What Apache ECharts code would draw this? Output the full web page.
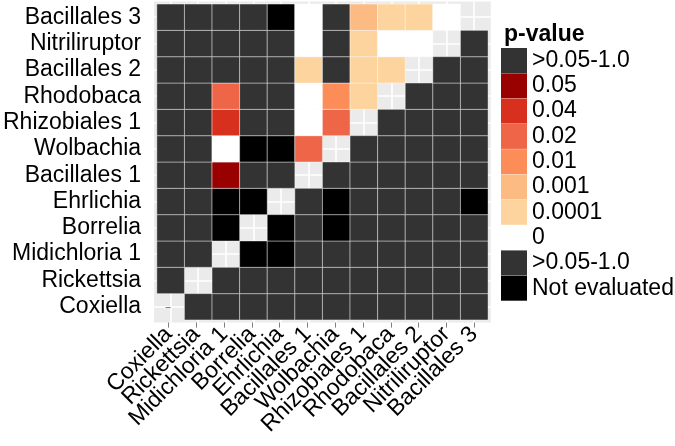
<!DOCTYPE html>
<html>
<head>
<meta charset="utf-8">
<script src="https://cdn.jsdelivr.net/npm/echarts@6/dist/echarts.min.js"></script>
<style>
html,body{margin:0;padding:0;background:#fff;}
#chart{width:675px;height:446px;}
</style>
</head>
<body>
<div id="chart"></div>
<script>
// Taxa, in axis order (x: left to right, y: bottom to top)
const taxa = ['Coxiella','Rickettsia','Midichloria 1','Borrelia','Ehrlichia','Bacillales 1','Wolbachia','Rhizobiales 1','Rhodobaca','Bacillales 2','Nitriliruptor','Bacillales 3'];

// Legend levels and colours
const levelLabels = ['>0.05-1.0','0.05','0.04','0.02','0.01','0.001','0.0001','0','>0.05-1.0','Not evaluated'];
const levelCodes  = ['ns','0.05','0.04','0.02','0.01','0.001','0.0001','0','ns2','NE'];
const levelColors = ['#333333','#990000','#d7301f','#ef6548','#fc8d59','#fdbb84','#fdd49e','#ffffff','#333333','#000000'];

// Matrix rows (columns follow taxa order); '-' = not shown (diagonal)
const rowBacillales3   = ['ns','ns','ns','ns','NE','0','ns','0.001','0.0001','0.0001','0','-'];
const rowNitriliruptor = ['ns','ns','ns','ns','ns','0','ns','0.0001','0','0','-','ns'];
const rowBacillales2   = ['ns','ns','ns','ns','ns','0.0001','ns','0.0001','0.0001','-','ns','ns'];
const rowRhodobaca     = ['ns','ns','0.02','ns','ns','0','0.01','0.0001','-','ns','ns','ns'];
const rowRhizobiales1  = ['ns','ns','0.04','ns','ns','0','0.02','-','ns','ns','ns','ns'];
const rowWolbachia     = ['ns','ns','0','NE','NE','0.02','-','ns','ns','ns','ns','ns'];
const rowBacillales1   = ['ns','ns','0.05','ns','ns','-','ns','ns','ns','ns','ns','ns'];
const rowEhrlichia     = ['ns','ns','NE','NE','-','ns','NE','ns','ns','ns','ns','NE'];
const rowBorrelia      = ['ns','ns','NE','-','NE','ns','NE','ns','ns','ns','ns','ns'];
const rowMidichloria1  = ['ns','ns','-','NE','NE','ns','ns','ns','ns','ns','ns','ns'];
const rowRickettsia    = ['ns','-','ns','ns','ns','ns','ns','ns','ns','ns','ns','ns'];
const rowCoxiella      = ['-','ns','ns','ns','ns','ns','ns','ns','ns','ns','ns','ns'];

const rowsBottomUp = [rowCoxiella,rowRickettsia,rowMidichloria1,rowBorrelia,rowEhrlichia,rowBacillales1,rowWolbachia,rowRhizobiales1,rowRhodobaca,rowBacillales2,rowNitriliruptor,rowBacillales3];

const data = [];
rowsBottomUp.forEach((row, yi) => {
  row.forEach((code, xi) => {
    if (code === '-') return;
    data.push([xi, yi, levelCodes.indexOf(code)]);
  });
});

const idx = taxa.map((_, i) => i);
const FONT = 'Liberation Sans, Arial, sans-serif';

// panel geometry (discrete scale padded by 0.6 units on each side)
const PL = 152, PT = 1.4, PW = 338.8, PH = 321.2;
const unitW = PW / 12.2;

const chart = echarts.init(document.getElementById('chart'), null, {renderer: 'canvas'});
chart.setOption({
  animation: false,
  backgroundColor: '#ffffff',
  title: {
    text: 'p-value', left: 499, top: 18,
    textStyle: {fontFamily: FONT, fontSize: 23, fontWeight: 'bold', color: '#000'}
  },
  grid: [
    {left: PL, top: PT, width: PW, height: PH, show: true, backgroundColor: '#ebebeb', borderWidth: 0},
    {left: PL + 0.1 * unitW, top: PT, width: 12 * unitW, height: PH, show: false}
  ],
  xAxis: [{
    type: 'value', min: -0.6, max: 11.6, gridIndex: 0,
    axisLine: {show: false},
    axisTick: {show: false, customValues: idx},
    axisLabel: {show: false, customValues: idx},
    splitLine: {show: true, lineStyle: {color: '#ffffff', width: 1.6}}
  }, {
    type: 'category', gridIndex: 1, data: taxa, boundaryGap: true,
    axisLine: {show: false},
    axisTick: {show: true, alignWithLabel: true, interval: 0, length: 5, lineStyle: {color: '#7f7f7f', width: 1}},
    axisLabel: {
      interval: 0, rotate: 45, margin: 8,
      fontFamily: FONT, fontSize: 23, color: '#000'
    },
    splitLine: {show: false}
  }],
  yAxis: [{
    type: 'value', min: -0.6, max: 11.6, gridIndex: 0,
    axisLine: {show: false},
    axisTick: {show: true, length: 5, customValues: idx, lineStyle: {color: '#7f7f7f', width: 1}},
    axisLabel: {
      customValues: idx, margin: 13, lineHeight: 20,
      fontFamily: FONT, fontSize: 23, color: '#000',
      formatter: v => taxa[Math.round(v)]
    },
    splitLine: {show: true, lineStyle: {color: '#ffffff', width: 1.6}}
  }, {
    type: 'value', gridIndex: 1, show: false, min: 0, max: 1
  }],
  visualMap: {
    type: 'piecewise',
    seriesIndex: 0, dimension: 2,
    orient: 'vertical', inverse: true, align: 'left',
    left: 501, top: 48, padding: 0,
    itemWidth: 26, itemHeight: 25, itemGap: 0.3, textGap: 5,
    itemSymbol: 'rect',
    selectedMode: false,
    textStyle: {fontFamily: FONT, fontSize: 23, color: '#000'},
    pieces: levelLabels.map((lab, i) => ({value: i, label: lab, color: levelColors[i]}))
  },
  series: [{
    type: 'custom',
    xAxisIndex: 0, yAxisIndex: 0,
    data: data,
    encode: {x: 0, y: 1},
    renderItem: function (params, api) {
      const x = api.value(0), y = api.value(1);
      const p0 = api.coord([x - 0.5, y + 0.5]);
      const p1 = api.coord([x + 0.5, y - 0.5]);
      return {
        type: 'rect',
        shape: {x: p0[0], y: p0[1], width: p1[0] - p0[0], height: p1[1] - p0[1]},
        style: {fill: api.visual('color'), stroke: 'rgba(255,255,255,0.4)', lineWidth: 1}
      };
    }
  }]
});
</script>
</body>
</html>
